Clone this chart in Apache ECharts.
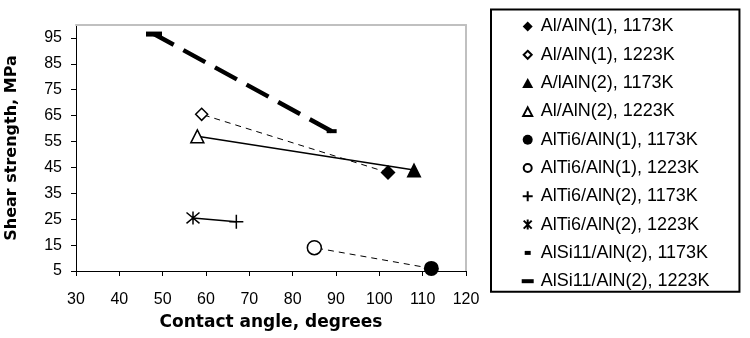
<!DOCTYPE html>
<html><head><meta charset="utf-8">
<script src="https://cdn.jsdelivr.net/npm/echarts@6/dist/echarts.min.js"></script>
<style>html,body{margin:0;padding:0;background:#fff}#c{width:750px;height:338px}</style>
</head><body><div id="c"></div>
<script>
// ---- data ----
const seriesNames = ['Al/AlN(1), 1173K','Al/AlN(1), 1223K','A/lAlN(2), 1173K','Al/AlN(2), 1223K',
  'AlTi6/AlN(1), 1173K','AlTi6/AlN(1), 1223K','AlTi6/AlN(2), 1173K','AlTi6/AlN(2), 1223K',
  'AlSi11/AlN(2), 1173K','AlSi11/AlN(2), 1223K'];
const contactAngle  = [102, 59, 108, 58, 112, 85, 67, 57, 89, 48];
const shearStrength = [43, 65.5, 44, 57, 6, 14, 24, 25.5, 59, 96.5];
const pairs = [[0,1],[2,3],[4,5],[6,7],[8,9]];
const xTicks = [30,40,50,60,70,80,90,100,110,120];
const yTicks = [5,15,25,35,45,55,65,75,85,95];

// ---- styles ----
const plusPath = 'path://M0,6H12M6,0V12';
const starPath = 'path://M0,0L10,10M10,0L0,10M5,-1V11';
const markers = [
  {symbol:'diamond', size:15, fill:'#000'},
  {symbol:'diamond', size:12, fill:'#fff'},
  {symbol:'triangle', size:15, fill:'#000'},
  {symbol:'triangle', size:13, fill:'#fff'},
  {symbol:'circle', size:15, fill:'#000'},
  {symbol:'circle', size:14, fill:'#fff'},
  {symbol:plusPath, size:14, fill:'#000'},
  {symbol:starPath, size:13, fill:'#000'},
  {symbol:'rect', size:[10,4], fill:'#000'},
  {symbol:'rect', size:[16,5], fill:'#000'}
];
// legend icons (path:// so that aspect is kept inside the legend item box)
const pad = 'M0,0H0M16,10H16';
const legendIcons = [
  'path://' + pad + 'M8,0L13,5L8,10L3,5Z',
  'path://' + pad + 'M8,1L12,5L8,9L4,5Z',
  'path://' + pad + 'M8,0L13.5,10H2.5Z',
  'path://' + pad + 'M8,1L12.5,9.5H3.5Z',
  'path://' + pad + 'M3,5A5,5 0 1,1 13,5A5,5 0 1,1 3,5Z',
  'path://' + pad + 'M4,5A4,4 0 1,1 12,5A4,4 0 1,1 4,5Z',
  'path://' + pad + 'M2,5H14M8,-1V11',
  'path://' + pad + 'M4,1L12,9M12,1L4,9M8,0V10',
  'path://' + pad + 'M5,3H11V7H5Z',
  'path://' + pad + 'M2,3H14V7H2Z'
];
const lineStyles = [
  {type:[6,5], width:1},
  {type:'solid', width:1.5},
  {type:[6,5], width:1},
  {type:'solid', width:1.5},
  {type:[25,11], width:4.5}
];

const series = [];
pairs.forEach((p, k) => {
  series.push({
    type:'line', silent:true, symbol:'none', z:1,
    data: p.map(i => [contactAngle[i], shearStrength[i]]),
    lineStyle:{color:'#000', width:lineStyles[k].width, type:lineStyles[k].type}
  });
});
seriesNames.forEach((n, i) => {
  const m = markers[i];
  series.push({
    type:'scatter', name:n, z:3,
    symbol:m.symbol, symbolSize:m.size,
    data:[[contactAngle[i], shearStrength[i]]],
    itemStyle:{color:m.fill, borderColor:'#000', borderWidth:(m.fill==='#fff' || i===6 || i===7) ? 1.5 : 0, opacity:1}
  });
});

const chart = echarts.init(document.getElementById('c'), null, {renderer:'canvas'});
chart.setOption({
  animation:false,
  backgroundColor:'#fff',
  grid:{left:76, right:284, top:25, bottom:67, containLabel:false, outerBoundsMode:'none'},
  legend:{
    orient:'vertical', left:491, top:9.5,
    padding:[8, 30, 1.5, 27.7],
    itemWidth:16, itemHeight:10, itemGap:10.3,
    symbolKeepAspect:true,
    borderColor:'#000', borderWidth:2,
    textStyle:{fontFamily:'Liberation Sans, Arial', fontSize:18, color:'#000'},
    data: seriesNames.map((n,i) => ({name:n, icon:legendIcons[i]}))
  },
  xAxis:[{
    type:'value', min:30, max:120, interval:10,
    name:'Contact angle, degrees', nameLocation:'middle', nameGap:43,
    nameTextStyle:{fontFamily:'DejaVu Sans', fontWeight:'bold', fontSize:17, color:'#000'},
    axisLine:{show:true, lineStyle:{color:'#000', width:1}},
    axisTick:{show:true, length:5, lineStyle:{color:'#000'}},
    axisLabel:{margin:21, fontFamily:'Liberation Sans, Arial', fontSize:16, color:'#000'},
    splitLine:{show:false}
  },{
    type:'value', position:'top', min:30, max:120,
    axisLine:{show:true, onZero:false, lineStyle:{color:'#c0c0c0', width:2}},
    axisTick:{show:false}, axisLabel:{show:false}, splitLine:{show:false}
  }],
  yAxis:[{
    type:'value', min:5, max:100,
    name:'Shear strength, MPa', nameLocation:'middle', nameGap:56, nameRotate:90,
    nameTextStyle:{fontFamily:'DejaVu Sans', fontWeight:'bold', fontSize:16, color:'#000'},
    axisLine:{show:true, lineStyle:{color:'#000', width:1}},
    axisTick:{show:true, length:5, lineStyle:{color:'#000'}, customValues:yTicks},
    axisLabel:{margin:14, fontFamily:'Liberation Sans, Arial', fontSize:16, color:'#000', customValues:yTicks},
    splitLine:{show:false}
  },{
    type:'value', position:'right', min:5, max:100,
    axisLine:{show:true, onZero:false, lineStyle:{color:'#c0c0c0', width:2}},
    axisTick:{show:false}, axisLabel:{show:false}, splitLine:{show:false}
  }],
  series: series
});
</script></body></html>
